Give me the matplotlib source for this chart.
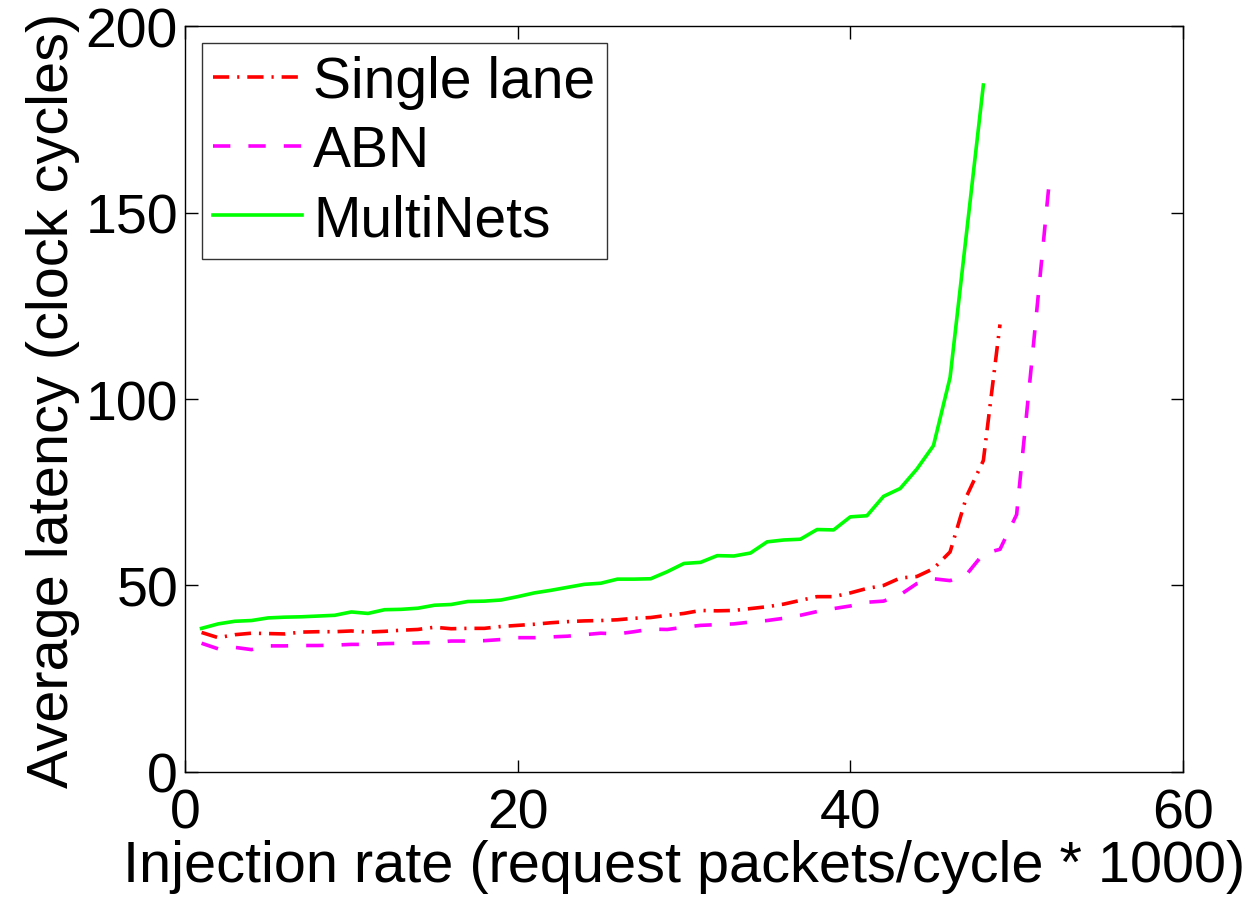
import numpy as np
import matplotlib
matplotlib.use('Agg')
import matplotlib.pyplot as plt

# injection rates (request packets/cycle * 1000)
rate_single = list(range(1, 50))
rate_abn = list(range(1, 53))
rate_multi = list(range(1, 49))

# average latency (clock cycles)
lat_single = [37.4, 36.0, 36.8, 37.2, 37.1, 37.0, 37.5, 37.6, 37.6, 37.8,
              37.5, 37.7, 38.0, 38.2, 38.8, 38.4, 38.5, 38.5, 39.0, 39.3,
              39.6, 40.0, 40.3, 40.5, 40.6, 40.8, 41.2, 41.4, 42.0, 42.5,
              43.3, 43.2, 43.3, 43.8, 44.3, 45.0, 46.0, 47.0, 47.0, 48.0,
              49.2, 50.0, 52.0, 52.4, 54.5, 59.0, 74.0, 83.5, 120.0]
lat_abn = [34.5, 33.0, 33.4, 32.8, 33.8, 33.8, 33.9, 33.9, 34.0, 34.2,
           34.2, 34.4, 34.5, 34.6, 34.7, 35.1, 35.1, 35.2, 35.5, 36.0,
           36.0, 36.2, 36.4, 36.8, 37.2, 37.0, 37.6, 38.3, 38.2, 38.8,
           39.3, 39.5, 39.7, 40.2, 40.6, 41.2, 42.0, 43.0, 43.8, 44.5,
           45.5, 45.8, 47.5, 50.5, 51.8, 51.3, 53.0, 58.5, 59.7, 69.0,
           114.0, 160.0]
lat_multi = [38.5, 39.7, 40.4, 40.6, 41.3, 41.5, 41.6, 41.8, 42.0, 42.9,
             42.5, 43.5, 43.6, 43.9, 44.7, 44.9, 45.7, 45.8, 46.1, 47.0,
             48.0, 48.7, 49.5, 50.3, 50.6, 51.7, 51.7, 51.8, 53.7, 55.9,
             56.2, 58.0, 57.9, 58.7, 61.7, 62.2, 62.4, 65.0, 64.9, 68.4,
             68.7, 73.9, 76.0, 81.2, 87.5, 105.8, 145.0, 184.2]

plt.rcParams['font.family'] = ['Liberation Sans', 'DejaVu Sans']

fig = plt.figure(figsize=(12.53, 9.04), dpi=100)
ax = fig.add_axes([0.1476, 0.145, 0.7965, 0.825])

lw = 2.6
ax.plot(rate_single, lat_single, color='#ff0000', linestyle=(0, (4.5, 2.2, 0.6, 2.2)),
        linewidth=lw, label='Single lane')
ax.plot(rate_abn, lat_abn, color='#ff00ff', linestyle=(0, (4.8, 5.0)),
        linewidth=lw, label='ABN')
ax.plot(rate_multi, lat_multi, color='#00ff00', linestyle='-',
        linewidth=lw, label='MultiNets')

ax.set_xlim(0, 60)
ax.set_ylim(0, 200)
ax.set_xticks([0, 20, 40, 60])
ax.set_yticks([0, 50, 100, 150, 200])
ax.tick_params(direction='in', length=9, width=1, labelsize=40,
               top=True, right=True)
ax.tick_params(axis='x', pad=11)
ax.tick_params(axis='y', pad=5)
for s in ax.spines.values():
    s.set_linewidth(1)

ax.set_xlabel('Injection rate (request packets/cycle * 1000)', fontsize=41.5, labelpad=0)
ax.set_ylabel('Average latency (clock cycles)', fontsize=41.5, labelpad=4)

leg = ax.legend(loc='upper left', fontsize=41, frameon=True, fancybox=False,
                edgecolor='black', handlelength=1.55, handletextpad=0.2,
                borderpad=0.2, labelspacing=0.27, borderaxespad=0.3)
leg.get_frame().set_linewidth(1)

fig.savefig('out.png', dpi=100)
